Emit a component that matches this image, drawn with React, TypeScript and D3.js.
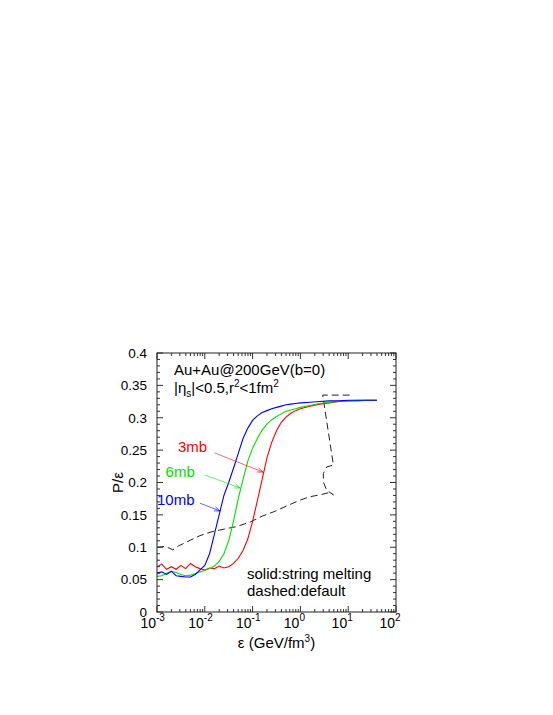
import React from 'react';
import { scaleLog, scaleLinear, line, range } from 'd3';

// log10 of energy density (GeV/fm^3) shared by the three solid curves
const logEps = [
  -3.0, -2.9, -2.8, -2.7, -2.6, -2.5, -2.4, -2.3, -2.2, -2.1, -2.0, -1.9, -1.8,
  -1.7, -1.6, -1.5, -1.4, -1.3, -1.2, -1.1, -1.0, -0.9, -0.8, -0.7, -0.6, -0.5,
  -0.4, -0.3, -0.2, -0.1, 0, 0.2, 0.4, 0.6, 0.8, 1.0, 1.2, 1.4, 1.6,
];

const ratio10mb = [
  0.060, 0.062, 0.058, 0.063, 0.056, 0.055, 0.054, 0.054, 0.058, 0.065, 0.072, 0.090, 0.120,
  0.150, 0.180, 0.200, 0.222, 0.245, 0.268, 0.284, 0.296, 0.303, 0.308, 0.311, 0.314, 0.316,
  0.318, 0.320, 0.321, 0.322, 0.323, 0.324, 0.325, 0.326, 0.326, 0.327, 0.327, 0.327, 0.327,
];

const ratio6mb = [
  0.055, 0.056, 0.060, 0.063, 0.061, 0.058, 0.056, 0.057, 0.059, 0.062, 0.064, 0.067, 0.071,
  0.078, 0.090, 0.110, 0.140, 0.175, 0.205, 0.233, 0.253, 0.268, 0.281, 0.290, 0.297, 0.302,
  0.306, 0.310, 0.312, 0.314, 0.316, 0.319, 0.322, 0.324, 0.325, 0.326, 0.327, 0.327, 0.327,
];

const ratio3mb = [
  0.070, 0.074, 0.066, 0.070, 0.066, 0.072, 0.067, 0.075, 0.070, 0.067, 0.065, 0.068, 0.067,
  0.071, 0.068, 0.070, 0.075, 0.083, 0.095, 0.113, 0.140, 0.172, 0.205, 0.238, 0.262, 0.280,
  0.293, 0.301, 0.307, 0.311, 0.314, 0.318, 0.321, 0.323, 0.325, 0.326, 0.326, 0.327, 0.327,
];

// default (dashed) trajectory, in drawing order
const defaultLogEps = [
  -3.0, -2.85, -2.75, -2.67, -2.55, -2.3, -2.1, -1.85, -1.6, -1.33, -1.05, -0.8, -0.55,
  -0.25, 0.0, 0.2, 0.41, 0.58, 0.69, 0.55, 0.48, 0.48, 0.55, 0.69, 0.467, 1.04,
];
const defaultRatio = [
  0.100, 0.101, 0.099, 0.096, 0.102, 0.111, 0.118, 0.124, 0.128, 0.132, 0.139, 0.148, 0.155,
  0.165, 0.173, 0.178, 0.181, 0.184, 0.181, 0.188, 0.201, 0.214, 0.224, 0.227, 0.335, 0.335,
];

const yTicks = [0, 0.05, 0.1, 0.15, 0.2, 0.25, 0.3, 0.35, 0.4];
const yTickLabels = ['0', '0.05', '0.1', '0.15', '0.2', '0.25', '0.3', '0.35', '0.4'];
const xExponents = [-3, -2, -1, 0, 1, 2];

const series = [
  { name: '3mb', color: '#ff0000', values: ratio3mb, label: [-2.56, 0.247], arrow: [-1.79, 0.2456, -0.78, 0.216] },
  { name: '6mb', color: '#00e000', values: ratio6mb, label: [-2.82, 0.208], arrow: [-2.0, 0.2116, -1.26, 0.1915] },
  { name: '10mb', color: '#0000ff', values: ratio10mb, label: [-3.0, 0.166], arrow: [-2.1, 0.168, -1.68, 0.156] },
];

const width = 553;
const height = 715;
const left = 157;
const right = 396;
const top = 353;
const bottom = 612;
const font = 'Liberation Sans, Arial, Helvetica, sans-serif';

const App = () => {
  const x = scaleLog().domain([1e-3, 1e2]).range([left, right]);
  const y = scaleLinear().domain([0, 0.4]).range([bottom, top]);

  const path = line<[number, number]>()
    .x(d => x(Math.pow(10, d[0])))
    .y(d => y(d[1]));

  const minorX: number[] = [];
  xExponents.slice(0, -1).forEach(e => {
    range(2, 10).forEach(m => minorX.push(m * Math.pow(10, e)));
  });
  const minorY = range(0, 41).map(i => i / 100).filter(v => Math.round(v * 100) % 5 !== 0);

  const arrowHead = (x1: number, y1: number, x2: number, y2: number) => {
    const a = Math.atan2(y2 - y1, x2 - x1);
    const len = 6;
    const p1 = [x2 - len * Math.cos(a - 0.35), y2 - len * Math.sin(a - 0.35)];
    const p2 = [x2 - len * Math.cos(a + 0.35), y2 - len * Math.sin(a + 0.35)];
    return `M${p1[0]},${p1[1]}L${x2},${y2}L${p2[0]},${p2[1]}`;
  };

  return (
    <svg width={width} height={height} style={{ display: 'block', position: 'absolute', left: 0, top: 0 }}>
      <rect width={width} height={height} fill="#fff" />

      {/* ticks */}
      <g stroke="#333" strokeWidth={1}>
        {xExponents.map(e => {
          const px = x(Math.pow(10, e));
          return (
            <g key={'xt' + e}>
              <line x1={px} x2={px} y1={bottom} y2={bottom - 6} />
              <line x1={px} x2={px} y1={top} y2={top + 6} />
            </g>
          );
        })}
        {minorX.map((v, i) => {
          const px = x(v);
          return (
            <g key={'xm' + i}>
              <line x1={px} x2={px} y1={bottom} y2={bottom - 3} />
              <line x1={px} x2={px} y1={top} y2={top + 3} />
            </g>
          );
        })}
        {yTicks.map(v => (
          <g key={'yt' + v}>
            <line x1={left} x2={left + 6} y1={y(v)} y2={y(v)} />
            <line x1={right} x2={right - 6} y1={y(v)} y2={y(v)} />
          </g>
        ))}
        {minorY.map(v => (
          <g key={'ym' + v}>
            <line x1={left} x2={left + 3} y1={y(v)} y2={y(v)} />
            <line x1={right} x2={right - 3} y1={y(v)} y2={y(v)} />
          </g>
        ))}
      </g>

      {/* curves */}
      <path
        d={path(defaultLogEps.map((e, i) => [e, defaultRatio[i]] as [number, number])) || ''}
        fill="none"
        stroke="#222"
        strokeWidth={1}
        strokeDasharray="7,4"
      />
      {series.map(s => (
        <path
          key={s.name}
          d={path(logEps.map((e, i) => [e, s.values[i]] as [number, number])) || ''}
          fill="none"
          stroke={s.color}
          strokeWidth={1.1}
        />
      ))}

      {/* series labels with arrows */}
      {series.map(s => {
        const x1 = x(Math.pow(10, s.arrow[0]));
        const y1 = y(s.arrow[1]);
        const x2 = x(Math.pow(10, s.arrow[2]));
        const y2 = y(s.arrow[3]);
        return (
          <g key={'lab' + s.name}>
            <line x1={x1} y1={y1} x2={x2} y2={y2} stroke={s.color} strokeOpacity={0.6} strokeWidth={1} />
            <path d={arrowHead(x1, y1, x2, y2)} fill="none" stroke={s.color} strokeOpacity={0.7} strokeWidth={1} />
            <text
              x={x(Math.pow(10, s.label[0]))}
              y={y(s.label[1])}
              fill={s.color}
              fontSize={15}
              fontFamily={font}
            >
              {s.name}
            </text>
          </g>
        );
      })}

      <rect x={left} y={top} width={right - left} height={bottom - top} fill="none" stroke="#222" strokeWidth={1} />

      {/* tick labels */}
      {yTicks.map((v, i) => (
        <text
          key={'yl' + v}
          x={left - 10}
          y={y(v)}
          dy="0.36em"
          textAnchor="end"
          fontSize={13.5}
          fontFamily={font}
          fill="#000"
        >
          {yTickLabels[i]}
        </text>
      ))}
      {xExponents.map(e => {
        const px = x(Math.pow(10, e));
        return (
          <g key={'xl' + e} fontFamily={font} fill="#000">
            <text x={px - 1} y={bottom + 16} textAnchor="end" fontSize={14}>10</text>
            <text x={px - 1} y={bottom + 9} textAnchor="start" fontSize={10}>{e}</text>
          </g>
        );
      })}

      {/* annotations */}
      <text x={174} y={375} fontSize={15} fontFamily={font} fill="#000">Au+Au@200GeV(b=0)</text>
      <text x={174} y={393} fontSize={15} fontFamily={font} fill="#000">
        |η<tspan fontSize={10} dy={4}>s</tspan>
        <tspan dy={-4}>|&lt;0.5,r</tspan>
        <tspan fontSize={10} dy={-6}>2</tspan>
        <tspan dy={6}>&lt;1fm</tspan>
        <tspan fontSize={10} dy={-6}>2</tspan>
      </text>
      <text x={247} y={579} fontSize={15} fontFamily={font} fill="#000">solid:string melting</text>
      <text x={247} y={596} fontSize={15} fontFamily={font} fill="#000">dashed:default</text>

      {/* axis titles */}
      <text
        transform={`translate(123,${(top + bottom) / 2}) rotate(-90)`}
        textAnchor="middle"
        fontSize={15}
        fontFamily={font}
        fill="#000"
      >
        P/ε
      </text>
      <text x={(left + right) / 2} y={648} textAnchor="middle" fontSize={15} fontFamily={font} fill="#000">
        ε (GeV/fm<tspan fontSize={10} dy={-6}>3</tspan>
        <tspan dy={6}>)</tspan>
      </text>
    </svg>
  );
};

export default App;
